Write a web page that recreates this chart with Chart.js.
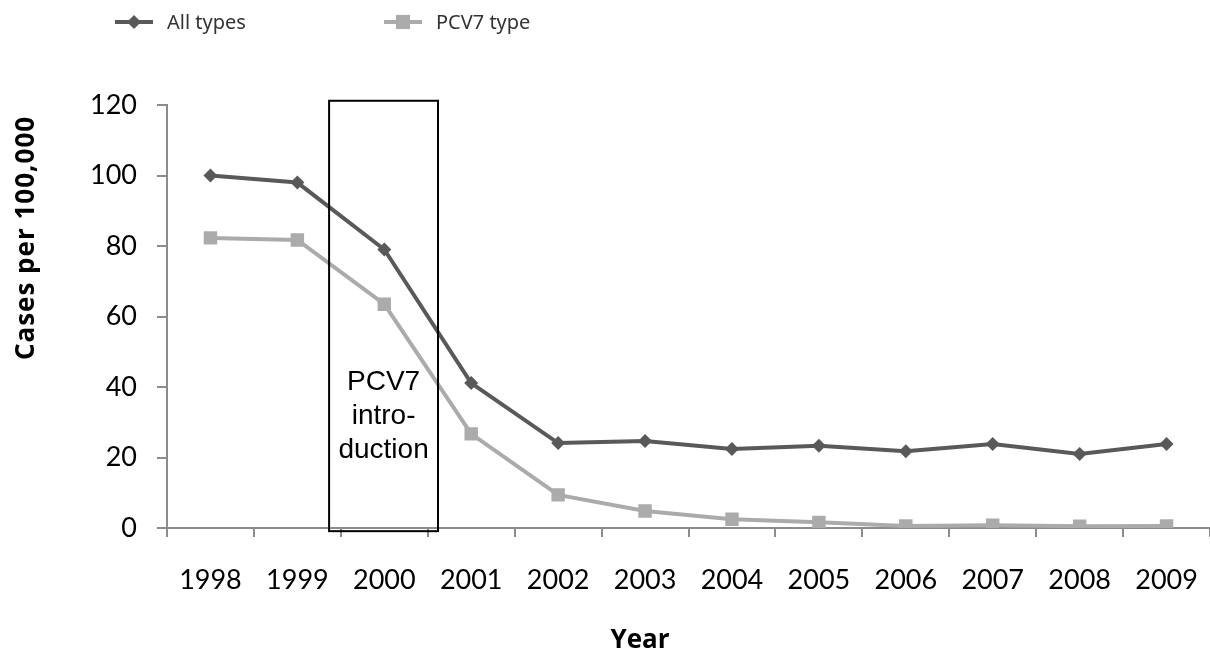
<!DOCTYPE html>
<html>
<head>
<meta charset="utf-8">
<script src="https://cdn.jsdelivr.net/npm/chart.js@4/dist/chart.umd.min.js"></script>
<style>
html,body{margin:0;padding:0;background:#fff;}
#wrap{width:1210px;height:652px;position:relative;}
</style>
</head>
<body>
<div id="wrap"><canvas id="c" width="1210" height="652"></canvas></div>
<script>
const years = ['1998','1999','2000','2001','2002','2003','2004','2005','2006','2007','2008','2009'];
const allTypes = [100, 98, 79, 41.1, 24.1, 24.7, 22.4, 23.3, 21.8, 23.8, 21.0, 23.8];
const pcv7Type = [82.3, 81.7, 63.5, 26.7, 9.4, 4.8, 2.5, 1.6, 0.6, 0.8, 0.5, 0.6];
const yTicks = [0, 20, 40, 60, 80, 100, 120];
const seriesNames = ['All types', 'PCV7 type'];
const xTitle = 'Year';
const yTitle = 'Cases per 100,000';
const introLabel = ['PCV7', 'intro-', 'duction'];
const introBox = {xMin: 1.365, xMax: 2.618, yMin: -0.9, yMax: 121.2};

const DARK = '#595959', LIGHT = '#ababab', AXIS = '#8c8c8c';

const introPlugin = {
  id: 'intro',
  afterDatasetsDraw(chart) {
    const {ctx, scales: {x, y}} = chart;
    const x0 = x.getPixelForValue(introBox.xMin), x1 = x.getPixelForValue(introBox.xMax);
    const y0 = y.getPixelForValue(introBox.yMax), y1 = y.getPixelForValue(introBox.yMin);
    ctx.save();
    ctx.strokeStyle = '#000';
    ctx.lineWidth = 2;
    ctx.strokeRect(x0, y0, x1 - x0, y1 - y0);
    ctx.fillStyle = '#000';
    ctx.font = '28px "Liberation Sans", Arial, sans-serif';
    ctx.textAlign = 'center';
    ctx.textBaseline = 'alphabetic';
    const cx = (x0 + x1) / 2;
    const by = y.getPixelForValue(40) + 3;
    introLabel.forEach((t, i) => ctx.fillText(t, cx, by + i * 34));
    ctx.restore();
  }
};

const titlesPlugin = {
  id: 'titles',
  afterDraw(chart) {
    const {ctx} = chart;
    ctx.save();
    ctx.fillStyle = '#000';
    ctx.font = 'bold 26px "Open Sans", sans-serif';
    ctx.textAlign = 'center';
    ctx.textBaseline = 'alphabetic';
    ctx.fillText(xTitle, 640, 648);
    ctx.translate(34, 238);
    ctx.rotate(-Math.PI / 2);
    if ('letterSpacing' in ctx) ctx.letterSpacing = '1px';
    ctx.fillText(yTitle, 0, 0);
    ctx.restore();
  }
};

const legendPlugin = {
  id: 'customLegend',
  afterDraw(chart) {
    const {ctx} = chart;
    const items = [
      {x: 115, color: DARK, style: 'rectRot', r: 7},
      {x: 384, color: LIGHT, style: 'rect', r: 10}
    ];
    ctx.save();
    items.forEach((it, i) => {
      const yy = 22;
      ctx.strokeStyle = it.color;
      ctx.lineWidth = 4;
      ctx.beginPath();
      ctx.moveTo(it.x, yy);
      ctx.lineTo(it.x + 38, yy);
      ctx.stroke();
      ctx.fillStyle = it.color;
      Chart.helpers.drawPoint(ctx, {pointStyle: it.style, radius: it.r, borderWidth: 0}, it.x + 19, yy);
      ctx.fillStyle = '#333';
      ctx.font = '20px "Noto Sans", sans-serif';
      ctx.textAlign = 'left';
      ctx.textBaseline = 'middle';
      ctx.fillText(seriesNames[i], it.x + 52, yy + 1);
    });
    ctx.restore();
  }
};

new Chart(document.getElementById('c'), {
  type: 'line',
  data: {
    labels: years,
    datasets: [
      {label: seriesNames[0], data: allTypes, borderColor: DARK, backgroundColor: DARK,
       borderWidth: 4, pointStyle: 'rectRot', pointRadius: 7, pointBorderWidth: 0, tension: 0},
      {label: seriesNames[1], data: pcv7Type, borderColor: LIGHT, backgroundColor: LIGHT,
       borderWidth: 4, pointStyle: 'rect', pointRadius: 9.5, pointBorderWidth: 0, tension: 0}
    ]
  },
  options: {
    responsive: false,
    animation: false,
    layout: {autoPadding: false, padding: {top: 105, right: 0, bottom: 0, left: 0}},
    plugins: {legend: {display: false}, tooltip: {enabled: false}},
    scales: {
      x: {
        offset: true,
        grid: {display: true, offset: true, drawOnChartArea: false, drawTicks: true, tickLength: 9, color: AXIS, lineWidth: 2},
        border: {display: true, color: AXIS, width: 2},
        ticks: {color: '#000', font: {family: 'Lato, "Open Sans", sans-serif', size: 27}, padding: 27, maxRotation: 0, autoSkip: false},
        title: {display: false},
        afterFit(s) { s.height = 124; s.paddingRight = 0; s.paddingLeft = 0; }
      },
      y: {
        min: 0, max: 120,
        afterBuildTicks(s) { s.ticks = yTicks.map(v => ({value: v})); },
        grid: {display: true, drawOnChartArea: false, drawTicks: true, tickLength: 10, color: AXIS, lineWidth: 2},
        border: {display: true, color: AXIS, width: 2},
        ticks: {color: '#000', font: {family: 'Lato, "Open Sans", sans-serif', size: 27}, padding: 20},
        title: {display: false},
        afterFit(s) { s.width = 167; }
      }
    }
  },
  plugins: [introPlugin, titlesPlugin, legendPlugin]
});
</script>
</body>
</html>
